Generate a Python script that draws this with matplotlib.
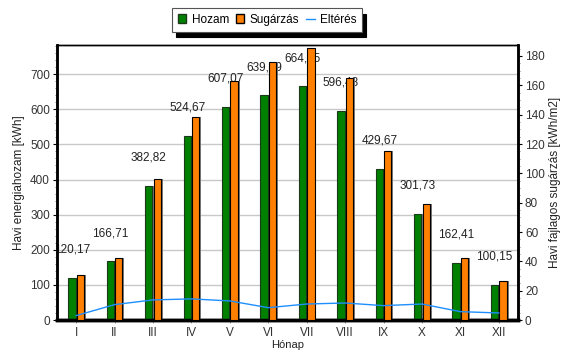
import matplotlib
matplotlib.use("Agg")
import matplotlib.pyplot as plt
import numpy as np
from matplotlib.patches import Patch
from matplotlib.lines import Line2D
from matplotlib.ticker import MultipleLocator

plt.rcParams['font.family'] = ['Liberation Sans', 'DejaVu Sans']

months = ["I", "II", "III", "IV", "V", "VI", "VII", "VIII", "IX", "X", "XI", "XII"]
hozam = [120.17, 166.71, 382.82, 524.67, 607.07, 639.89, 664.95, 596.48, 429.67, 301.73, 162.41, 100.15]
sugarzas = [31.0, 42.4, 96.4, 138.1, 162.9, 175.7, 185.2, 165.1, 115.2, 79.3, 42.6, 26.9]
elteres = [3.0, 10.5, 13.7, 14.4, 13.0, 8.4, 10.9, 11.6, 9.8, 10.9, 5.7, 4.8]
labels = ["120,17", "166,71", "382,82", "524,67", "607,07", "639,89",
          "664,95", "596,48", "429,67", "301,73", "162,41", "100,15"]

green = "#008000"
orange = "#FF8000"
blue = "#1E8FFF"
fs = 8.5

fig = plt.figure(figsize=(5.62, 3.51), dpi=100)
ax = fig.add_axes([0.1014, 0.0883, 0.8203, 0.7835])
ax2 = ax.twinx()

x = np.arange(len(months)) + 0.5
w = 0.19
off = 0.11
sh = 0.05

# shadows behind the bars
ax.bar(x - off + sh, hozam, w, color="#7a7a7a", zorder=2)
ax.bar(x - off, hozam, w, color=green, edgecolor="#1a3a1a", linewidth=0.8, zorder=3)
ax2.bar(x + off + sh, sugarzas, w, color="#7a7a7a", zorder=2)
ax2.bar(x + off, sugarzas, w, color=orange, edgecolor="black", linewidth=0.8, zorder=3)
ax2.plot(x, elteres, color=blue, linewidth=1.0, zorder=4)

for xi, v, t in zip(x, hozam, labels):
    ax.annotate(t, (xi - off, v), xytext=(0, 16), textcoords="offset points",
                ha="center", va="bottom", fontsize=fs, color="#222222", zorder=6)

ax.set_xlim(0, 12)
ax.set_ylim(0, 783)
ax2.set_ylim(0, 187.5)
ax.set_xticks(x)
ax.set_xticklabels(months, fontsize=fs, color="#333333")
ax.tick_params(axis="x", length=2, width=0.6, color="#888888", pad=3)
ax.set_yticks(np.arange(0, 701, 100))
ax.yaxis.set_minor_locator(MultipleLocator(20))
ax.tick_params(axis="y", labelsize=fs, labelcolor="#333333", length=3, width=0.8, direction="out", pad=2)
ax.tick_params(axis="y", which="minor", length=1.5, width=0.6, color="#666666")
ax2.set_yticks(np.arange(0, 181, 20))
ax2.yaxis.set_minor_locator(MultipleLocator(5))
ax2.tick_params(axis="y", labelsize=fs, labelcolor="#333333", length=3, width=0.8, direction="out", pad=2)
ax2.tick_params(axis="y", which="minor", length=1.5, width=0.6, color="#666666")

ax.grid(axis="y", color="#c8c8c8", linewidth=1.0, zorder=0)
ax.set_axisbelow(True)
ax2.set_zorder(ax.get_zorder() + 1)
ax2.patch.set_visible(False)

for a in (ax, ax2):
    a.spines["top"].set_linewidth(1.0)
    a.spines["left"].set_linewidth(1.8)
    a.spines["right"].set_linewidth(1.8)
    a.spines["bottom"].set_linewidth(2.5)

ax.set_ylabel("Havi energiahozam [kWh]", fontsize=fs, color="#222222", labelpad=4)
ax2.set_ylabel("Havi fajlagos sugárzás [kWh/m2]", fontsize=fs, color="#222222", labelpad=3)
fig.text(0.5116, 1.0 / 351, "Hónap", ha="center", va="bottom", fontsize=8, color="#222222")

handles = [Patch(facecolor=green, edgecolor="#1a3a1a", label="Hozam"),
           Patch(facecolor=orange, edgecolor="black", label="Sugárzás"),
           Line2D([0], [0], color=blue, linewidth=1.0, label="Eltérés")]
leg = fig.legend(handles=handles, loc="center", bbox_to_anchor=(0.475, 0.943), ncol=3,
                 fontsize=fs, frameon=True, fancybox=False, edgecolor="#555555",
                 shadow={"color": "black", "alpha": 1.0, "ox": 3, "oy": -4},
                 handlelength=0.75, handleheight=0.8, handletextpad=0.45,
                 columnspacing=0.55, borderpad=0.5, borderaxespad=0)
leg.get_frame().set_linewidth(0.8)

fig.savefig("out.png", dpi=100)
